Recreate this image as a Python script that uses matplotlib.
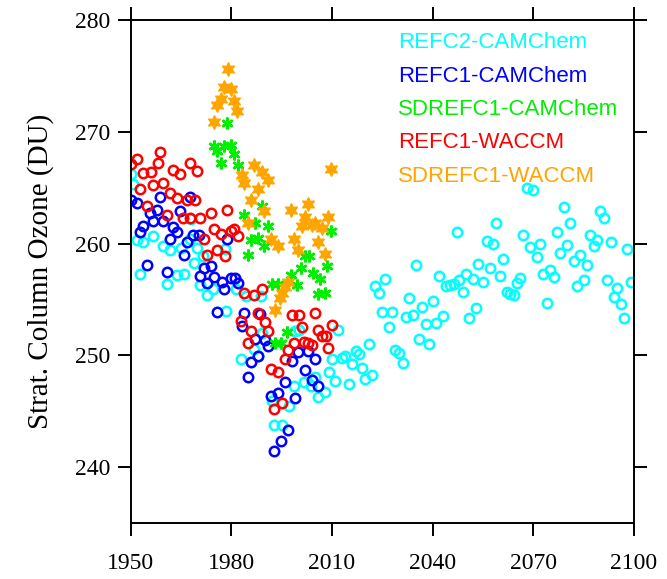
"""
stratospheric column ozone, model runs 1950-2100
"""
import matplotlib
matplotlib.use("Agg")
import matplotlib.pyplot as plt

# REFC2-CAMChem
refc2_cam_yr = [1950.0, 1950.8, 1952.0, 1952.8, 1953.8, 1956.7, 1959.7, 1960.7, 1961.7, 1963.9,
                1964.9, 1965.9, 1967.7, 1967.9, 1968.9, 1969.7, 1970.7, 1971.6, 1972.7, 1974.6,
                1978.1, 1978.4, 1981.4, 1982.9, 1984.3, 1986.8, 1988.0, 1988.7, 1989.0, 1992.0,
                1992.8, 1995.0, 1997.2, 1998.7, 1999.0, 2000.2, 2001.7, 2003.7, 2004.9, 2005.9,
                2008.0, 2009.0, 2010.0, 2011.0, 2011.9, 2012.9, 2013.9, 2015.0, 2015.9, 2017.0,
                2018.1, 2018.9, 2019.8, 2020.9, 2021.9, 2022.8, 2023.9, 2024.8, 2025.9, 2026.9,
                2027.8, 2028.9, 2030.0, 2031.0, 2032.0, 2032.9, 2034.0, 2034.9, 2035.8, 2036.9,
                2037.9, 2038.8, 2040.0, 2041.0, 2041.9, 2043.0, 2044.0, 2045.2, 2046.2, 2047.1,
                2047.9, 2049.0, 2049.8, 2050.8, 2051.9, 2052.8, 2053.6, 2055.0, 2056.1, 2057.1,
                2058.1, 2059.0, 2060.0, 2061.0, 2062.0, 2063.0, 2064.2, 2065.0, 2066.0, 2066.9,
                2068.0, 2069.0, 2070.0, 2071.0, 2072.0, 2073.0, 2074.0, 2075.0, 2076.0, 2076.9,
                2078.0, 2079.0, 2080.0, 2081.0, 2082.0, 2083.0, 2084.0, 2085.0, 2086.0, 2087.0,
                2088.0, 2089.1, 2090.0, 2091.1, 2092.0, 2093.0, 2094.0, 2095.0, 2096.1, 2097.0,
                2097.9, 2099.0]
refc2_cam_o3 = [266.25, 265.3, 260.3, 257.3, 260.1, 260.7, 259.8, 256.4, 259.45, 257.2,
                259.6, 257.3, 260.4, 262.2, 258.3, 259.6, 256.25, 258.9, 255.4, 255.9,
                259.5, 254.0, 255.9, 249.7, 255.3, 250.6, 249.9, 255.3, 252.0, 245.9,
                243.75, 243.8, 245.5, 247.3, 252.2, 252.3, 247.6, 247.3, 248.1, 246.3,
                246.7, 248.5, 249.7, 247.7, 252.3, 249.8, 249.9, 247.4, 249.2, 250.4,
                250.1, 248.9, 247.9, 251.0, 248.2, 256.2, 255.6, 253.9, 256.8, 252.5,
                253.9, 250.5, 250.2, 249.3, 253.4, 255.1, 253.6, 258.1, 251.5, 254.3,
                252.8, 251.0, 254.9, 252.9, 257.1, 253.5, 256.2, 256.3, 256.4, 261.0,
                256.7, 255.7, 257.3, 253.3, 256.8, 254.2, 258.2, 256.6, 260.2, 257.8,
                260.0, 261.8, 257.1, 258.6, 255.7, 255.5, 255.4, 256.5, 256.9, 260.8,
                265.0, 259.7, 264.8, 258.8, 260.0, 257.3, 254.7, 257.6, 257.0, 261.0,
                259.2, 263.3, 259.9, 261.8, 258.4, 256.2, 259.0, 256.7, 258.1, 260.8,
                259.8, 260.3, 262.9, 262.3, 256.7, 260.1, 255.2, 256.0, 254.6, 253.3,
                259.5, 256.6]

# REFC1-CAMChem
refc1_cam_yr = [1950.0, 1951.8, 1952.8, 1953.8, 1954.8, 1955.7, 1956.7, 1957.9, 1958.7, 1959.7,
                1960.7, 1961.7, 1962.7, 1963.9, 1964.7, 1965.9, 1966.9, 1967.7, 1968.7, 1970.2,
                1970.7, 1971.8, 1972.8, 1973.9, 1974.9, 1975.8, 1977.1, 1977.9, 1978.8, 1979.9,
                1981.1, 1982.1, 1983.1, 1983.8, 1984.9, 1985.9, 1987.0, 1988.0, 1988.5, 1990.0,
                1991.0, 1991.8, 1992.8, 1994.0, 1994.8, 1996.0, 1996.8, 1998.0, 1999.0, 1999.8,
                2002.0, 2002.9, 2004.0, 2004.9, 2005.9]
refc1_cam_o3 = [263.9, 263.6, 261.0, 261.6, 258.1, 262.7, 262.0, 263.0, 264.2, 262.0,
                257.5, 260.4, 261.5, 261.0, 262.9, 259.0, 260.1, 264.2, 260.8, 260.8,
                257.1, 257.8, 256.5, 258.0, 257.0, 253.9, 256.6, 255.9, 260.4, 256.9,
                256.9, 256.5, 252.6, 253.8, 248.1, 249.4, 251.5, 249.9, 253.7, 251.4,
                250.8, 246.4, 241.4, 246.6, 242.35, 247.65, 243.3, 249.5, 246.2, 250.3,
                248.7, 250.4, 247.8, 249.7, 247.3]

# SDREFC1-CAMChem
sd_cam_yr = [1974.9, 1975.8, 1976.8, 1977.8, 1978.8, 1979.9, 1980.9, 1981.9, 1983.8, 1984.8,
             1985.8, 1987.1, 1987.8, 1989.0, 1989.8, 1990.8, 1992.0, 1993.0, 1994.0, 1994.8,
             1996.5, 1997.7, 1999.5, 2000.8, 2002.0, 2003.0, 2004.4, 2005.9, 2006.4, 2007.9,
             2008.4, 2009.7]
sd_cam_o3 = [268.75, 268.3, 267.2, 268.7, 270.8, 268.8, 268.0, 267.0, 262.6, 259.0,
             260.3, 261.85, 260.5, 263.4, 259.8, 261.6, 256.4, 251.1, 256.4, 251.1,
             252.1, 257.2, 256.3, 257.8, 258.9, 258.9, 257.4, 255.45, 256.85, 255.6,
             258.0, 261.1]

# REFC1-WACCM
refc1_wac_yr = [1950.0, 1951.8, 1952.8, 1953.8, 1954.8, 1956.0, 1956.7, 1958.0, 1958.8, 1959.7,
                1960.7, 1961.7, 1962.7, 1963.7, 1964.7, 1965.7, 1966.9, 1967.7, 1967.7, 1969.2,
                1969.7, 1970.7, 1971.8, 1972.7, 1973.9, 1974.8, 1975.8, 1976.8, 1978.0, 1978.7,
                1979.8, 1980.9, 1982.1, 1982.8, 1983.8, 1984.9, 1985.8, 1986.8, 1987.9, 1989.0,
                1990.0, 1991.0, 1991.8, 1992.8, 1994.0, 1995.0, 1996.0, 1997.0, 1998.0, 1998.8,
                2000.2, 2001.0, 2001.6, 2002.9, 2004.1, 2004.9, 2005.9, 2007.1, 2008.1, 2008.9,
                2009.9]
refc1_wac_o3 = [267.1, 267.6, 264.9, 266.3, 263.4, 266.4, 265.2, 267.2, 268.2, 265.4,
                262.6, 264.5, 266.6, 264.1, 266.2, 262.3, 263.9, 267.2, 262.3, 263.9,
                266.5, 262.3, 260.4, 259.0, 262.7, 261.3, 259.4, 260.9, 258.9, 263.0,
                261.1, 261.3, 260.7, 253.1, 255.6, 251.1, 252.2, 255.4, 253.8, 255.9,
                253.0, 252.2, 248.8, 245.2, 248.5, 245.7, 249.7, 250.5, 253.6, 251.1,
                253.6, 252.5, 251.2, 251.1, 250.9, 253.75, 252.3, 251.7, 251.7, 250.7,
                252.7]

# SDREFC1-WACCM
sd_wac_yr = [1974.8, 1975.8, 1976.8, 1977.9, 1978.9, 1979.9, 1980.8, 1981.8, 1983.1, 1983.9,
             1984.9, 1985.9, 1986.8, 1987.8, 1989.0, 1989.8, 1991.0, 1991.8, 1993.0, 1994.0,
             1994.5, 1995.0, 1996.0, 1997.0, 1997.8, 1998.8, 1999.9, 2000.9, 2001.9, 2002.9,
             2004.1, 2004.9, 2005.9, 2006.9, 2007.9, 2008.9, 2009.7]
sd_wac_o3 = [270.9, 272.4, 272.9, 274.0, 275.6, 273.8, 272.8, 271.9, 266.1, 265.4,
             261.85, 263.9, 267.05, 264.9, 266.4, 262.95, 265.7, 260.4, 254.1, 259.8,
             255.15, 255.6, 256.1, 256.6, 263.0, 260.4, 259.4, 261.6, 262.4, 263.5,
             261.7, 261.85, 260.1, 261.4, 259.1, 262.4, 266.7]

labels = ["REFC2-CAMChem", "REFC1-CAMChem", "SDREFC1-CAMChem", "REFC1-WACCM", "SDREFC1-WACCM"]
colors = ["#00ffff", "#0000ff", "#00ee00", "#ff0000", "#ffa500"]

xticks = [1950, 1980, 2010, 2040, 2070, 2100]
yticks = [240, 250, 260, 270, 280]

fig = plt.figure(figsize=(6.67, 5.79), dpi=100)
ax = fig.add_axes([0.196, 0.0967, 0.7546, 0.8687])

circ = dict(linestyle="none", marker="o", markersize=6.8, markerfacecolor="none", markeredgewidth=1.8)
ax.plot(refc2_cam_yr, refc2_cam_o3, color=colors[0], **circ)
ax.plot(refc1_cam_yr, refc1_cam_o3, color=colors[1], **circ)
ax.plot(sd_cam_yr, sd_cam_o3, linestyle="none", marker=(6, 2, 0), markersize=8.5,
        markeredgewidth=1.8, color=colors[2])
ax.plot(refc1_wac_yr, refc1_wac_o3, color=colors[3], **circ)
ax.plot(sd_wac_yr, sd_wac_o3, linestyle="none", marker=(6, 1, 0), markersize=10,
        markeredgewidth=1.0, color=colors[4])

ax.set_xlim(1950, 2100)
ax.set_ylim(235, 280)
ax.set_xticks(xticks)
ax.set_yticks(yticks)
ax.tick_params(which="both", direction="out", length=9.5, width=1.4,
               top=True, right=True, labeltop=False, labelright=False,
               labelsize=17)
ax.tick_params(axis="x", pad=12)
ax.tick_params(axis="y", pad=5)
for lab in ax.get_xticklabels() + ax.get_yticklabels():
    lab.set_family("Liberation Serif")
for s in ax.spines.values():
    s.set_linewidth(1.4)

ax.set_ylabel("Strat. Column Ozone (DU)", family="Liberation Serif", fontsize=21, labelpad=15)

ty = [0.956, 0.888, 0.822, 0.756, 0.688]
for lab, c, y in zip(labels, colors, ty):
    ax.text(0.531, y, lab, transform=ax.transAxes, color=c, fontsize=16,
            family="Liberation Sans", va="center", ha="left")

plt.savefig("out.png", dpi=100)
